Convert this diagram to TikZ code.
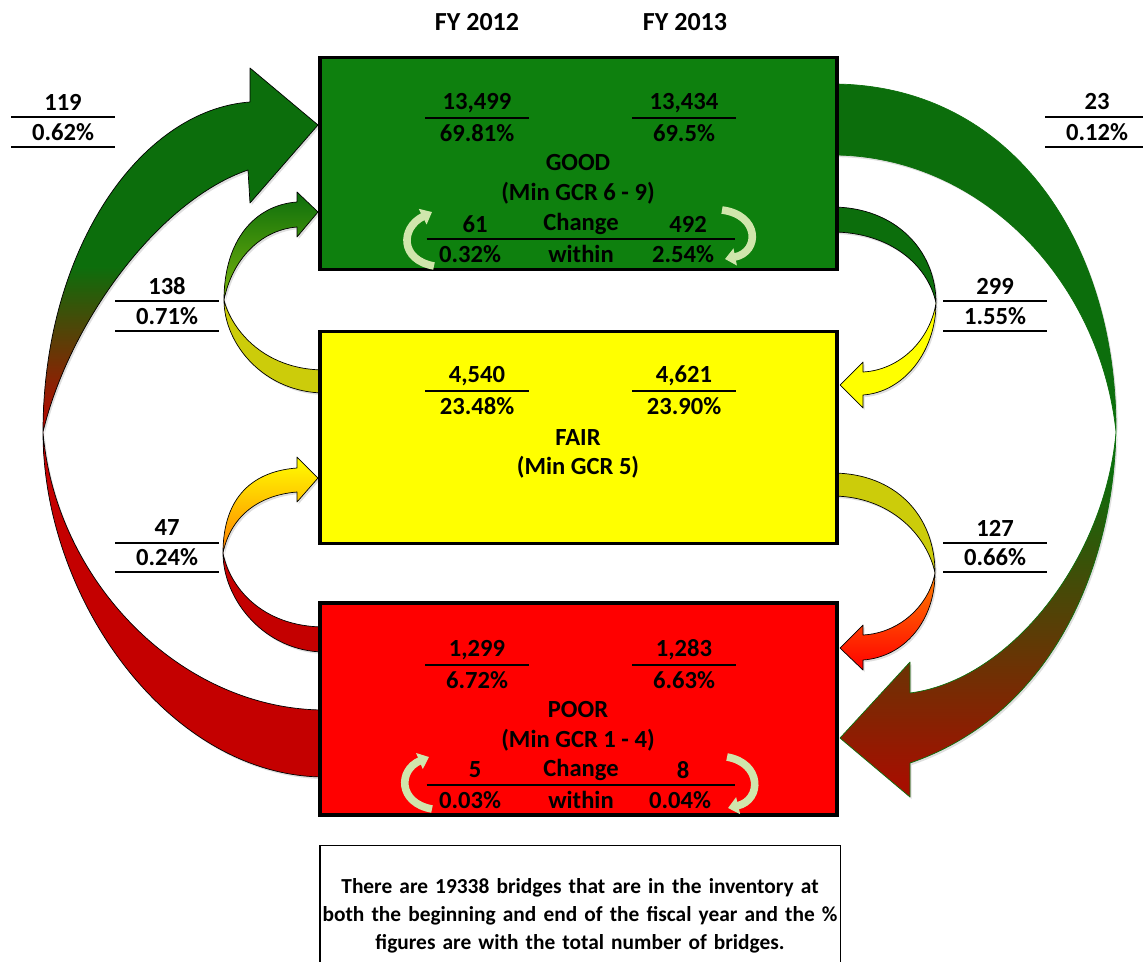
\documentclass[tikz,border=0pt]{standalone}
\usepackage{fontspec}
\setmainfont{Carlito}
\usetikzlibrary{arrows.meta,shadows}

\definecolor{goodgreen}{RGB}{14,128,14}
\definecolor{flowgreen}{RGB}{12,110,12}
\definecolor{fairyellow}{RGB}{255,255,0}
\definecolor{oliveyellow}{RGB}{204,204,10}
\definecolor{poorred}{RGB}{255,0,0}
\definecolor{flowred}{RGB}{196,0,0}
\definecolor{rustred}{RGB}{165,15,0}
\definecolor{turngreen}{RGB}{208,230,172}
\definecolor{leafgreen}{RGB}{120,180,10}

\pgfdeclareverticalshading{bigleft}{100bp}{color(0bp)=(flowred); color(49bp)=(flowred); color(61bp)=(flowgreen); color(100bp)=(flowgreen)}
\pgfdeclareverticalshading{bigright}{100bp}{color(0bp)=(rustred); color(26bp)=(rustred); color(48bp)=(flowgreen); color(100bp)=(flowgreen)}

\newcommand{\boxfont}{\bfseries\fontsize{17.5}{20}\selectfont}

\begin{document}
\begin{tikzpicture}[x=0.025cm, y=-0.025cm,
		box/.style={draw=black, line width=2.4pt, minimum width=12.925cm,
			minimum height=5.3cm, inner sep=0pt},
		lbl/.style={font=\boxfont, minimum width=2.575cm, minimum height=0.75cm,
			inner sep=0pt},
		wide/.style={lbl, minimum width=7.7cm},
		bar/.style={line width=1.2pt},
		ribbon/.style={draw=black, line width=0.5pt, line join=round,
			drop shadow={shadow xshift=1.2pt, shadow yshift=-1.5pt, opacity=0.25}},
		turn/.style={draw=turngreen, line width=0.19cm,
			-{Triangle[length=0.26cm, width=0.42cm]}}]
	\useasboundingbox (0,0) rectangle (1143,961);

	% big flows round the outside
	\path[ribbon, shading=bigleft] (325,777) .. controls (170,777) and (43,600) .. (43,432)
		.. controls (43,250) and (140,110) .. (250,102) -- (250,68) -- (318,125)
		-- (250,203) -- (248,170) .. controls (160,200) and (70,320) .. (43,432)
		.. controls (55,580) and (180,710) .. (325,710) -- cycle;
	\path[ribbon, draw=flowgreen, shading=bigright] (832,84) .. controls (1010,84) and (1117,240) .. (1116,432)
		.. controls (1113,570) and (1050,715) .. (910,763) -- (910,797) -- (840,738)
		-- (910,662) -- (910,693) .. controls (1010,680) and (1105,560) .. (1116,432)
		.. controls (1100,280) and (980,155) .. (832,155) -- cycle;

	% good <-> fair
	\path[ribbon, fill=flowgreen] (832,207) .. controls (895,207) and (936,250) .. (936,303)
		.. controls (928,265) and (890,232) .. (832,232) -- cycle;
	\path[ribbon, fill=fairyellow] (936,303) .. controls (936,350) and (905,392) .. (863,395)
		-- (863,408) -- (840,385) -- (863,362) -- (863,372)
		.. controls (900,370) and (930,340) .. (936,303) -- cycle;
	\path[ribbon, top color=flowgreen, middle color=flowgreen, bottom color=leafgreen]
		(224,300) .. controls (224,240) and (255,205) .. (297,202) -- (297,192) -- (318,212)
		-- (297,237) -- (297,227) .. controls (260,230) and (232,260) .. (224,300) -- cycle;
	\path[ribbon, fill=oliveyellow] (224,300) .. controls (224,345) and (265,393) .. (325,393)
		-- (325,370) .. controls (260,370) and (230,325) .. (224,300) -- cycle;

	% fair <-> poor
	\path[ribbon, fill=oliveyellow] (832,473) .. controls (895,473) and (935,515) .. (935,573)
		.. controls (927,535) and (890,496) .. (832,496) -- cycle;
	\path[ribbon, top color=orange, middle color=poorred, bottom color=poorred]
		(935,573) .. controls (935,620) and (905,657) .. (863,660) -- (863,670) -- (840,648)
		-- (863,625) -- (863,635) .. controls (900,633) and (929,605) .. (935,573) -- cycle;
	\path[ribbon, top color=fairyellow, middle color=fairyellow, bottom color=orange]
		(223,553) .. controls (223,495) and (255,471) .. (297,468) -- (297,457) -- (318,478)
		-- (297,502) -- (297,492) .. controls (260,495) and (231,515) .. (223,553) -- cycle;
	\path[ribbon, fill=flowred] (223,553) .. controls (223,600) and (265,652) .. (325,652)
		-- (325,627) .. controls (260,627) and (229,585) .. (223,553) -- cycle;

	% condition boxes
	\node[box, fill=goodgreen] (good) at (578.5,163.5) {};
	\node[box, fill=fairyellow] (fair) at (578.5,437.5) {};
	\node[box, fill=poorred] (poor) at (578.5,709) {};

	\node[font=\bfseries\fontsize{18.5}{22}\selectfont] (fy12) at (477,22) {FY 2012};
	\node[font=\bfseries\fontsize{18.5}{22}\selectfont] (fy13) at (685,22) {FY 2013};

	% good
	\node[lbl] (good12n) at (477,103) {13,499};
	\node[lbl] (good12p) at (477,133) {69.81\%};
	\node[lbl] (good13n) at (684,103) {13,434};
	\node[lbl] (good13p) at (684,133) {69.5\%};
	\draw[bar] (good12n.south west) -- (good12n.south east);
	\draw[bar] (good13n.south west) -- (good13n.south east);
	\node[lbl] (goodname) at (578,163) {GOOD};
	\node[lbl] (goodgcr) at (578,193) {(Min GCR 6 - 9)};
	\node[wide] (goodchg) at (581,224) {Change};
	\node[lbl] (goodin) at (581,254) {within};
	\node[lbl] (goodup) at (475,224) {61};
	\node[lbl] (goodupp) at (470,254) {0.32\%};
	\node[lbl] (gooddn) at (688,224) {492};
	\node[lbl] (gooddnp) at (683,254) {2.54\%};
	\draw[bar] (goodchg.south west) -- (goodchg.south east);
	\draw[turn] (434,266) .. controls (400,260) and (400,228) .. (432,212);
	\draw[turn] (722,210) .. controls (760,215) and (760,252) .. (725,259);

	% fair
	\node[lbl] (fair12n) at (477,376) {4,540};
	\node[lbl] (fair12p) at (477,406) {23.48\%};
	\node[lbl] (fair13n) at (684,376) {4,621};
	\node[lbl] (fair13p) at (684,406) {23.90\%};
	\draw[bar] (fair12n.south west) -- (fair12n.south east);
	\draw[bar] (fair13n.south west) -- (fair13n.south east);
	\node[lbl] (fairname) at (578,438) {FAIR};
	\node[lbl] (fairgcr) at (578,467) {(Min GCR 5)};

	% poor
	\node[lbl] (poor12n) at (477,650) {1,299};
	\node[lbl] (poor12p) at (477,680) {6.72\%};
	\node[lbl] (poor13n) at (684,650) {1,283};
	\node[lbl] (poor13p) at (684,680) {6.63\%};
	\draw[bar] (poor12n.south west) -- (poor12n.south east);
	\draw[bar] (poor13n.south west) -- (poor13n.south east);
	\node[lbl] (poorname) at (578,710) {POOR};
	\node[lbl] (poorgcr) at (578,740) {(Min GCR 1 - 4)};
	\node[wide] (poorchg) at (581,770) {Change};
	\node[lbl] (poorin) at (581,800) {within};
	\node[lbl] (poorup) at (475,770) {5};
	\node[lbl] (poorupp) at (470,800) {0.03\%};
	\node[lbl] (poordn) at (683,770) {8};
	\node[lbl] (poordnp) at (680,800) {0.04\%};
	\draw[bar] (poorchg.south west) -- (poorchg.south east);
	\draw[turn] (432,809) .. controls (398,803) and (398,770) .. (429,757);
	\draw[turn] (727,757) .. controls (762,763) and (762,800) .. (728,808);

	% flow counts
	\node[lbl] (gp) at (63,102) {119};
	\node[lbl] (gpp) at (63,132) {0.62\%};
	\draw[bar] (gp.south west) -- (gp.south east);
	\draw[bar] (gpp.south west) -- (gpp.south east);
	\node[lbl] (pg) at (1097,102) {23};
	\node[lbl] (pgp) at (1097,132) {0.12\%};
	\draw[bar] (pg.south west) -- (pg.south east);
	\draw[bar] (pgp.south west) -- (pgp.south east);
	\node[lbl] (fg) at (167,286) {138};
	\node[lbl] (fgp) at (167,316) {0.71\%};
	\draw[bar] (fg.south west) -- (fg.south east);
	\draw[bar] (fgp.south west) -- (fgp.south east);
	\node[lbl] (gf) at (995,286) {299};
	\node[lbl] (gfp) at (995,316) {1.55\%};
	\draw[bar] (gf.south west) -- (gf.south east);
	\draw[bar] (gfp.south west) -- (gfp.south east);
	\node[lbl] (pf) at (167,528) {47};
	\node[lbl] (pfp) at (167,557) {0.24\%};
	\draw[bar] (pf.south west) -- (pf.south east);
	\draw[bar] (pfp.south west) -- (pfp.south east);
	\node[lbl] (fp) at (995,528) {127};
	\node[lbl] (fpp) at (995,557) {0.66\%};
	\draw[bar] (fp.south west) -- (fp.south east);
	\draw[bar] (fpp.south west) -- (fpp.south east);

	\node[draw=black, line width=0.8pt, anchor=north, minimum width=13cm,
		minimum height=3.5cm, text width=13cm, align=center, inner sep=0pt,
		font=\bfseries\fontsize{15.2}{19.9}\selectfont] (note) at (580,845)
		{There are 19338 bridges that are in the inventory at\\
		both the beginning and end of the fiscal year and the \%\\
		figures are with the total number of bridges.};
\end{tikzpicture}
\end{document}
